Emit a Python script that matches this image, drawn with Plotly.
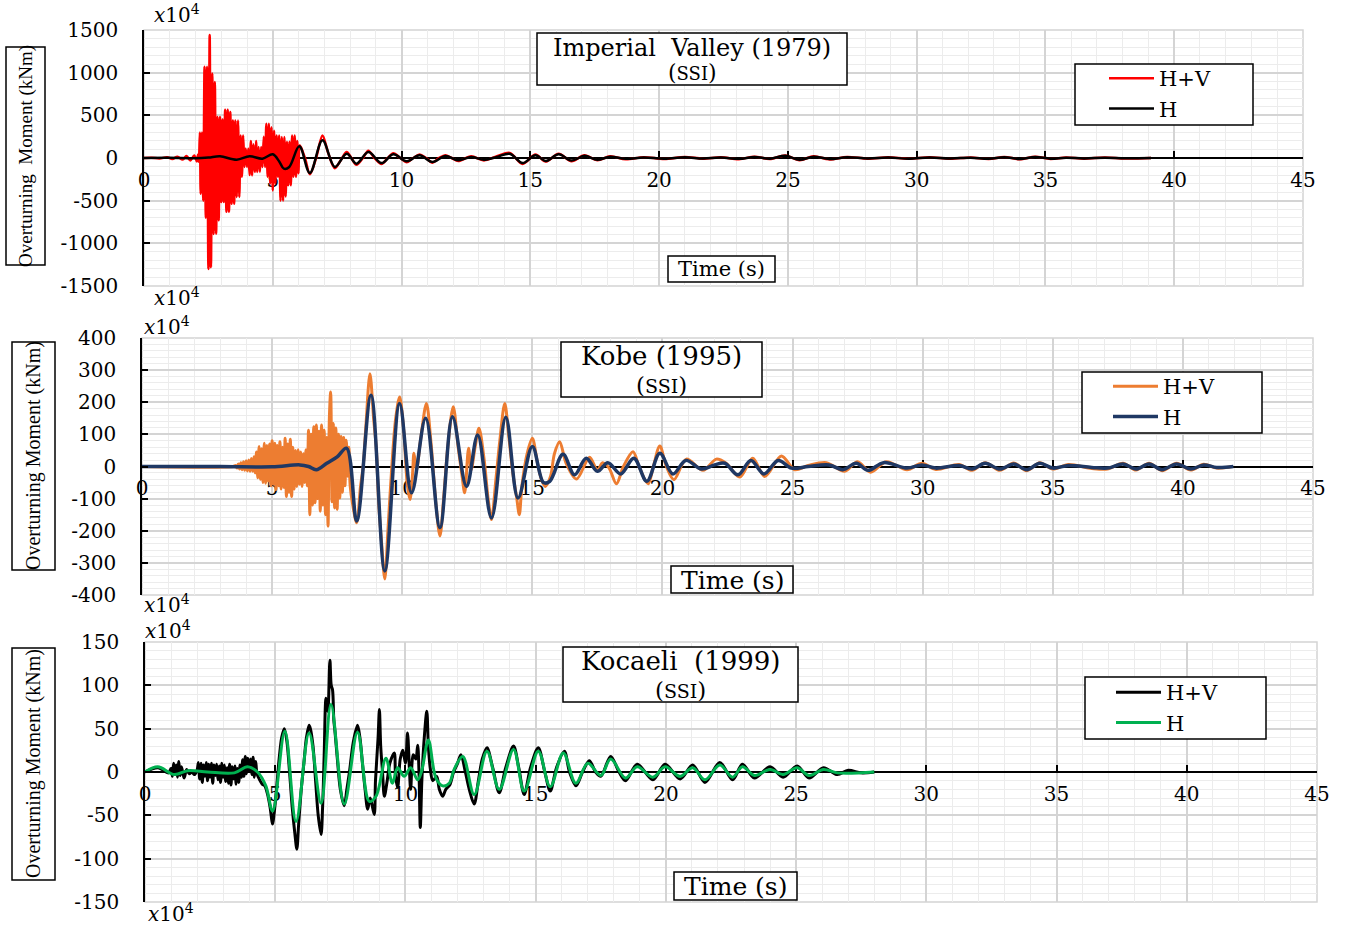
import plotly.graph_objects as go

# ---------------- data (time [s], overturning moment [x10^4 kNm]) ----------------
imperial_hv = [(0,0),(0.3,3),(0.6,-5),(0.9,8),(1.1,-12),(1.3,15),(1.5,-18),(1.65,22),(1.8,-28),(1.95,30),
 (2.05,-40),(2.1,40),(2.13,-45),(2.17,300),(2.2,-420),(2.25,300),(2.3,-500),(2.35,1070),(2.4,-700),(2.45,1070),
 (2.5,-1300),(2.55,1440),(2.6,-1280),(2.65,990),(2.7,-890),(2.75,890),(2.8,-887),(2.85,480),(2.9,-730),(2.95,480),
 (3.0,-515),(3.05,450),(3.1,-515),(3.15,565),(3.2,-630),(3.25,565),(3.3,-630),(3.35,540),(3.4,-535),(3.45,440),
 (3.5,-535),(3.55,440),(3.6,-457),(3.65,440),(3.7,-457),(3.75,265),(3.8,-220),(3.85,265),(3.9,-105),(3.95,110),
 (4.0,-105),(4.05,110),(4.1,-200),(4.15,200),(4.2,-203),(4.25,160),(4.3,-164),(4.35,200),(4.4,-164),(4.45,130),
 (4.5,-164),(4.55,130),(4.6,-105),(4.65,250),(4.7,-105),(4.75,400),(4.8,-220),(4.85,400),(4.9,-300),(4.95,360),
 (5.0,-380),(5.05,320),(5.1,-300),(5.15,265),(5.2,-220),(5.25,265),(5.3,-500),(5.35,245),(5.4,-500),(5.45,245),
 (5.5,-450),(5.55,190),(5.6,-320),(5.65,190),(5.7,-320),(5.75,265),(5.8,-220),(5.85,265),(5.9,-220),(5.95,200),
 (6.0,-180),(6.05,150),(6.25,0),(6.44,-190),(6.7,20),(6.93,265),(7.15,60),(7.41,-120),(7.65,-20),(7.87,70),
 (8.05,0),(8.25,-80),(8.5,0),(8.71,85),(8.95,0),(9.22,-70),(9.45,-5),(9.68,55),(9.95,0),(10.2,-50),(10.45,0),
 (10.7,40),(10.95,0),(11.2,-55),(11.45,0),(11.7,32),(11.95,0),(12.2,-35),(12.7,20),(13.2,-28),(13.7,20),
 (14.2,60),(14.7,-70),(15.2,40),(15.6,-42),(16.1,50),(16.6,-38),(17.1,32),(17.6,-26),(18.1,20),(18.7,-15),
 (19.4,10),(20.2,-12),(21.0,12),(21.7,-8),(22.4,10),(23.1,-14),(23.7,16),(24.3,-12),(24.9,30),(25.45,-25),
 (26.0,20),(26.6,-16),(27.3,12),(28.1,-8),(28.9,8),(29.7,-10),(30.5,9),(31.3,-9),(32.1,7),(32.8,-11),(33.4,13),
 (34.0,-15),(34.6,15),(35.2,-11),(35.8,7),(36.5,-8),(37.3,7),(38.1,-6),(39.1,0)]

imperial_h = [(0,0),(1.0,2),(2.0,-3),(2.5,5),(2.95,20),(3.6,-20),(4.1,20),(4.6,-8),(5.0,43),(5.25,-40),
 (5.43,-125),(5.64,-105),(6.03,137),(6.44,-176),(6.93,207),(7.41,-105),(7.87,50),(8.25,-66),(8.71,70),
 (9.22,-60),(9.68,43),(10.2,-39),(10.7,31),(11.2,-47),(11.7,23),(12.2,-27),(12.7,12),(13.2,-20),(13.7,12),
 (14.2,50),(14.7,-60),(15.2,31),(15.6,-35),(16.1,43),(16.6,-30),(17.1,25),(17.6,-20),(18.1,15),(18.7,-10),
 (19.4,5),(20.2,-8),(21.0,8),(21.7,-5),(22.4,6),(23.1,-10),(23.7,12),(24.3,-8),(24.9,25),(25.45,-20),
 (26.0,15),(26.6,-12),(27.3,8),(28.1,-5),(28.9,5),(29.7,-8),(30.5,6),(31.3,-6),(32.1,4),(32.8,-8),(33.4,10),
 (34.0,-12),(34.6,12),(35.2,-8),(35.8,4),(36.5,-5),(37.3,4),(38.1,-3),(39.1,0)]

kobe_hv = [(0,0),(3.5,0),(3.6,3),(3.65,-5),(3.7,8),(3.75,-8),(3.8,12),(3.85,-10),(3.9,15),(3.95,-12),(4.0,18),
 (4.05,-14),(4.1,20),(4.15,-15),(4.2,25),(4.25,-15),(4.3,30),(4.35,-20),(4.4,45),(4.45,-35),(4.5,62),(4.55,-40),
 (4.6,55),(4.65,-50),(4.7,72),(4.75,-52),(4.8,65),(4.85,-45),(4.9,70),(4.95,-60),(5.0,80),(5.05,-55),(5.1,72),
 (5.15,-72),(5.2,65),(5.25,-60),(5.3,77),(5.35,-70),(5.4,60),(5.45,-65),(5.5,88),(5.55,-93),(5.6,70),(5.65,-80),
 (5.7,85),(5.75,-93),(5.8,60),(5.85,-70),(5.9,50),(5.95,-62),(6.0,52),(6.05,-55),(6.1,45),(6.15,-62),(6.2,40),
 (6.25,-50),(6.3,52),(6.35,-60),(6.4,113),(6.45,-150),(6.5,100),(6.55,-120),(6.6,124),(6.65,-113),(6.7,129),
 (6.75,-100),(6.8,110),(6.85,-139),(6.9,129),(6.95,-120),(7.0,113),(7.05,-150),(7.1,90),(7.15,-186),(7.2,150),
 (7.25,232),(7.3,-110),(7.35,134),(7.4,-129),(7.45,120),(7.5,-134),(7.55,100),(7.6,-98),(7.65,93),(7.7,-80),
 (7.75,90),(7.8,-60),(7.85,82),(7.9,-30),(7.95,60),(8.0,-60),(8.1,-120),(8.25,-175),(8.4,-60),(8.5,0),
 (8.6,120),(8.76,289),(8.9,150),(9.0,60),(9.1,-120),(9.2,-230),(9.33,-350),(9.45,-200),(9.6,0),(9.75,150),
 (9.9,216),(10.05,120),(10.2,-60),(10.3,-103),(10.4,-20),(10.45,41),(10.55,-10),(10.7,80),(10.93,196),
 (11.1,80),(11.3,-120),(11.45,-216),(11.6,-90),(11.75,60),(11.96,186),(12.15,60),(12.3,-30),(12.4,-82),
 (12.55,57),(12.65,-10),(12.8,60),(12.95,119),(13.15,20),(13.3,-100),(13.43,-165),(13.6,-40),(13.75,80),
 (13.94,196),(14.1,90),(14.25,-20),(14.4,-98),(14.5,-150),(14.6,-60),(14.8,40),(15.0,88),(15.2,10),
 (15.35,-40),(15.5,-62),(15.7,-30),(15.85,40),(16.05,77),(16.3,10),(16.7,-39),(17.2,29),(17.5,-12),
 (17.7,12),(17.95,-5),(18.23,-54),(18.5,0),(18.87,46),(19.1,0),(19.45,-54),(19.65,0),(19.9,64),(20.15,0),
 (20.44,-41),(20.92,23),(21.56,-12),(22.07,23),(22.45,10),(22.97,-33),(23.47,26),(23.93,-31),(24.57,33),
 (25.08,-10),(25.6,3),(26.3,12),(27.0,-15),(27.5,15),(28.0,-18),(28.6,15),(29.4,-10),(29.97,10),(30.5,-9),
 (31.4,6),(31.9,-12),(32.4,12),(32.97,-12),(33.5,11),(34.0,-13),(34.5,12),(35.0,-8),(35.6,6),(36.5,-6),
 (37.1,-8),(37.7,10),(38.2,-11),(38.7,10),(39.2,-13),(39.76,10),(40.3,-11),(40.8,7),(41.3,-5),(41.9,0)]

kobe_h = [(0,0),(3.0,0),(5.0,-1),(6.07,5),(6.4,0),(6.7,-10),(7.1,10),(7.5,30),(7.86,57),(8.25,-170),
 (8.8,222),(9.33,-325),(9.9,196),(10.36,-82),(10.9,150),(11.45,-190),(11.93,155),(12.47,-62),(12.9,98),
 (13.43,-160),(13.98,153),(14.45,-98),(15.0,62),(15.43,-50),(15.67,-46),(16.18,38),(16.62,-26),(17.07,26),
 (17.5,-15),(17.9,12),(18.4,-23),(18.9,26),(19.4,-46),(19.9,41),(20.4,-23),(20.9,19),(21.5,-8),(22.0,5),
 (22.4,10),(22.9,-26),(23.4,19),(23.9,-23),(24.45,19),(24.96,-5),(25.6,0),(26.4,5),(26.93,-10),(27.45,10),
 (27.9,-12),(28.5,12),(29.4,-5),(29.97,5),(30.5,-5),(31.4,3),(31.9,-8),(32.4,10),(32.97,-8),(33.5,8),
 (34.0,-10),(34.5,10),(35.0,-5),(35.6,3),(36.5,-3),(37.1,-5),(37.7,8),(38.2,-8),(38.7,8),(39.2,-10),
 (39.76,8),(40.3,-8),(40.8,5),(41.3,-3),(41.94,0)]

kocaeli_hv = [(0,0),(0.5,5),(0.9,-1),(1.0,4),(1.05,-5),(1.1,10),(1.15,-3),(1.2,8),(1.25,-6),(1.3,12),(1.35,-4),
 (1.4,6),(1.5,-7),(1.6,3),(1.7,-2),(1.8,0),(1.9,-3),(2.0,2),(2.05,11),(2.1,-8),(2.15,10),(2.2,-12),(2.25,8),
 (2.3,-5),(2.35,11),(2.4,-10),(2.45,9),(2.5,-6),(2.55,10),(2.6,-13),(2.65,8),(2.7,-4),(2.75,9),(2.8,-9),
 (2.85,7),(2.9,-12),(2.95,10),(3.0,-6),(3.05,8),(3.1,-11),(3.15,5),(3.2,-13),(3.25,9),(3.3,-15),(3.35,6),
 (3.4,-8),(3.45,7),(3.5,-14),(3.55,4),(3.6,-12),(3.65,8),(3.7,-6),(3.75,14),(3.8,-5),(3.85,18),(3.9,-2),
 (3.95,16),(4.0,2),(4.05,15),(4.1,-3),(4.15,17),(4.2,-6),(4.25,12),(4.3,-2),(4.4,-9),(4.5,-14),(4.6,-16),
 (4.7,-25),(4.8,-40),(4.9,-60),(4.95,-50),(5.05,-20),(5.15,15),(5.25,40),(5.35,50),(5.45,35),(5.55,0),
 (5.65,-40),(5.75,-70),(5.83,-89),(5.9,-60),(6.0,-20),(6.1,10),(6.2,40),(6.3,54),(6.35,50),(6.45,30),
 (6.55,-10),(6.65,-50),(6.76,-72),(6.82,-40),(6.88,20),(6.95,85),(7.02,70),(7.1,129),(7.15,100),(7.2,95),
 (7.25,60),(7.3,45),(7.4,10),(7.5,-20),(7.65,-39),(7.75,-20),(7.85,0),(8.0,35),(8.16,54),(8.25,40),
 (8.35,10),(8.45,-20),(8.55,-43),(8.65,-30),(8.8,-49),(8.85,-10),(8.95,40),(9.0,72),(9.05,30),(9.12,0),
 (9.19,-28),(9.3,-10),(9.4,10),(9.57,22),(9.62,-5),(9.7,-18),(9.8,15),(9.9,25),(10.0,10),(10.08,45),
 (10.15,5),(10.2,-20),(10.3,20),(10.4,15),(10.47,31),(10.52,0),(10.57,-64),(10.63,-10),(10.7,30),(10.82,70),
 (10.88,30),(10.95,5),(11.05,-10),(11.2,-5),(11.3,-20),(11.43,-28),(11.55,-20),(11.7,-15),(11.85,0),
 (12.0,10),(12.13,20),(12.3,0),(12.45,-20),(12.64,-37),(12.8,-10),(12.95,15),(13.13,28),(13.35,5),
 (13.6,-24),(13.85,5),(14.15,30),(14.35,5),(14.56,-26),(14.8,5),(15.1,28),(15.35,0),(15.56,-22),(15.8,5),
 (16.1,24),(16.3,0),(16.55,-16),(16.8,0),(17.06,13),(17.3,0),(17.5,-5),(17.88,18),(18.2,0),(18.45,-10),
 (18.9,9),(19.5,-9),(19.97,9),(20.55,-8),(21.03,8),(21.5,-12),(22.07,11),(22.56,-9),(22.94,9),(23.4,-7),
 (24.0,6),(24.5,-6),(25.04,7),(25.5,-7),(26.05,5),(26.58,-3),(27.0,2),(27.5,-1),(28.0,0)]

kocaeli_h = [(0,0),(0.49,6),(1.13,-3),(1.64,1.5),(2.4,0),(3.43,-1),(3.94,6),(4.32,0),(4.64,-16),(4.9,-45),
 (5.37,47),(5.8,-57),(6.3,45),(6.76,-36),(7.14,78),(7.65,-37),(8.16,46),(8.61,-34),(8.87,-28),(9.25,16),
 (9.5,-13),(9.7,5),(9.95,-5),(10.2,5),(10.47,-9),(10.63,2),(10.88,37),(11.17,-7),(11.43,-16),(11.68,-13),
 (11.87,3),(12.2,18),(12.64,-26),(13.13,24),(13.6,-20),(14.15,26),(14.56,-22),(15.1,24),(15.56,-17),
 (16.06,22),(16.54,-13),(17.0,10),(17.5,-4),(17.88,15),(18.45,-7),(18.9,6),(19.5,-6),(19.97,6),(20.55,-5),
 (21.03,5),(21.5,-9),(22.07,8),(22.56,-6),(22.94,6),(23.4,-4),(24.0,3),(24.5,-3),(25.04,5),(25.5,-4),
 (26.05,3),(26.58,-1),(28.0,0)]

titles = ["Imperial\u00a0\u00a0Valley (1979)", "Kobe (1995)", "Kocaeli\u00a0\u00a0(1999)"]
series_names = ["H+V", "H"]
y_titles = ["Overturning\u00a0\u00a0Moment (kNm)", "Overturning Moment (kNm)", "Overturning Moment (kNm)"]
x_ticks = [0, 5, 10, 15, 20, 25, 30, 35, 40, 45]
imperial_yticks = [-1500, -1000, -500, 0, 500, 1000, 1500]
kobe_yticks = [-400, -300, -200, -100, 0, 100, 200, 300, 400]
kocaeli_yticks = [-150, -100, -50, 0, 50, 100, 150]

# ---------------- layout helpers ----------------
W, H = 1347, 926
def px(x): return x / W
def py(y): return 1 - y / H

SERIF = "DejaVu Serif"
TIMES = "Liberation Serif"

panels = [
    dict(x0=144, x1=1303, y0=30, y1=286, yticks=imperial_yticks, mdy=100,
         hv=imperial_hv, h=imperial_h, c_hv="#ff0000", c_h="#000000", w_hv=2.5, w_h=2.5,
         title_box=(537, 33, 847, 85), title_c=(692, 48, 73), title_size=24, ssi_size=22,
         leg_box=(1075, 64, 1253, 125), leg_xy=(1104, 58),
         time_box=(668, 256, 775, 282), time_c=(721, 269), time_size=21,
         yt_box=(6, 47, 45, 265), yt_c=(26, 156), yt_size=19,
         x10_top=(177, 14), x10_bot=(177, 297)),
    dict(x0=142, x1=1313, y0=338, y1=595, yticks=kobe_yticks, mdy=20,
         hv=kobe_hv, h=kobe_h, c_hv="#ed7d31", c_h="#1f3864", w_hv=3, w_h=3.5,
         title_box=(561, 342, 762, 397), title_c=(661, 356, 385), title_size=26, ssi_size=23,
         leg_box=(1082, 372, 1262, 433), leg_xy=(1108, 366),
         time_box=(671, 566, 793, 593), time_c=(732, 580), time_size=25,
         yt_box=(12, 342, 55, 570), yt_c=(33, 456), yt_size=20,
         x10_top=(167, 326), x10_bot=(167, 604)),
    dict(x0=145, x1=1317, y0=642, y1=902, yticks=kocaeli_yticks, mdy=10,
         hv=kocaeli_hv, h=kocaeli_h, c_hv="#000000", c_h="#00b050", w_hv=3, w_h=3,
         title_box=(563, 647, 798, 702), title_c=(680, 661, 690), title_size=26, ssi_size=23,
         leg_box=(1085, 677, 1266, 739), leg_xy=(1111, 672),
         time_box=(674, 872, 797, 900), time_c=(735, 886), time_size=25,
         yt_box=(12, 648, 55, 880), yt_c=(33, 764), yt_size=20,
         x10_top=(168, 630), x10_bot=(171, 913)),
]

fig = go.Figure()
shapes, annotations = [], []
layout = dict(width=W, height=H, margin=dict(l=0, r=0, t=0, b=0, pad=0, autoexpand=False),
              paper_bgcolor="white", plot_bgcolor="white", showlegend=True)

def ann(text, x, y, size, family=SERIF, angle=0):
    return dict(text=text, x=px(x), y=py(y), xref="paper", yref="paper", showarrow=False,
                xanchor="center", yanchor="middle", textangle=angle,
                font=dict(family=family, size=size, color="black"))

for i, p in enumerate(panels):
    sfx = "" if i == 0 else str(i + 1)
    xa, ya = "x" + sfx, "y" + sfx
    leg = "legend" + sfx
    ydom = [py(p["y1"]), py(p["y0"])]
    yr = max(p["yticks"])
    layout["xaxis" + sfx] = dict(
        domain=[px(p["x0"]), px(p["x1"])], range=[0, 45], anchor="free", automargin=False,
        position=(ydom[0] + ydom[1]) / 2, tickmode="array", tickvals=x_ticks,
        ticktext=[str(v) for v in x_ticks],
        ticks="inside", ticklen=6, tickwidth=1.5, tickcolor="black",
        showline=True, linecolor="black", linewidth=1.5, zeroline=False,
        showgrid=True, gridcolor="#d4d4d4", gridwidth=1.5,
        minor=dict(dtick=1, showgrid=True, gridcolor="#ececec", gridwidth=1),
        tickfont=dict(family=SERIF, size=20, color="black"),
        ticklabelstandoff=4, layer="below traces", fixedrange=True)
    layout["yaxis" + sfx] = dict(
        domain=ydom, range=[-yr, yr], anchor=xa, automargin=False,
        tickmode="array", tickvals=p["yticks"], ticktext=[str(v) for v in p["yticks"]],
        ticks="inside", ticklen=6, tickwidth=1.5, tickcolor="black",
        showline=True, linecolor="black", linewidth=1.5, zeroline=False,
        showgrid=True, gridcolor="#d4d4d4", gridwidth=1.5,
        minor=dict(dtick=p["mdy"], tick0=0, showgrid=True, gridcolor="#ececec", gridwidth=1),
        tickfont=dict(family=SERIF, size=20, color="black"),
        ticklabelstandoff=20, fixedrange=True)
    layout[leg] = dict(x=px(p["leg_xy"][0]), y=py(p["leg_xy"][1]), xanchor="left", yanchor="top",
                       bgcolor="rgba(0,0,0,0)", borderwidth=0, itemwidth=45, tracegroupgap=0,
                       font=dict(family=SERIF, size=21, color="black"))

    t_hv, v_hv = zip(*p["hv"])
    t_h, v_h = zip(*p["h"])
    fig.add_trace(go.Scatter(x=list(t_hv), y=list(v_hv), mode="lines", name=series_names[0],
                             line=dict(color=p["c_hv"], width=p["w_hv"], shape="spline", smoothing=0.9),
                             xaxis=xa, yaxis=ya, legend=leg, legendgroup=f"hv{i}"))
    fig.add_trace(go.Scatter(x=list(t_h), y=list(v_h), mode="lines", name=series_names[1],
                             line=dict(color=p["c_h"], width=p["w_h"], shape="spline", smoothing=1.0),
                             xaxis=xa, yaxis=ya, legend=leg, legendgroup=f"h{i}"))

    shapes.append(dict(type="rect", xref=xa + " domain", yref=ya + " domain", x0=0, x1=1, y0=0, y1=1,
                       line=dict(color="#d4d4d4", width=1.5), layer="below"))
    for key in ("title_box", "leg_box", "time_box", "yt_box"):
        bx0, by0, bx1, by1 = p[key]
        shapes.append(dict(type="rect", xref="paper", yref="paper", x0=px(bx0), x1=px(bx1),
                           y0=py(by1), y1=py(by0), line=dict(color="black", width=1.5),
                           fillcolor="white" if key != "yt_box" else "rgba(0,0,0,0)", layer="above"))
    cx, ly1, ly2 = p["title_c"]
    annotations.append(ann(titles[i], cx, ly1, p["title_size"]))
    annotations.append(ann("(<span style='font-size:%dpx'>SSI</span>)" % int(p["ssi_size"] * 0.85),
                           cx, ly2, p["ssi_size"]))
    annotations.append(ann("Time (s)", p["time_c"][0], p["time_c"][1], p["time_size"]))
    annotations.append(ann(y_titles[i], p["yt_c"][0], p["yt_c"][1], p["yt_size"], family=TIMES, angle=-90))
    for key in ("x10_top", "x10_bot"):
        annotations.append(ann("<i>x</i>10<sup>4</sup>", p[key][0], p[key][1], 20))

layout["shapes"] = shapes
layout["annotations"] = annotations
fig.update_layout(**layout)
fig.write_html("out.html")
